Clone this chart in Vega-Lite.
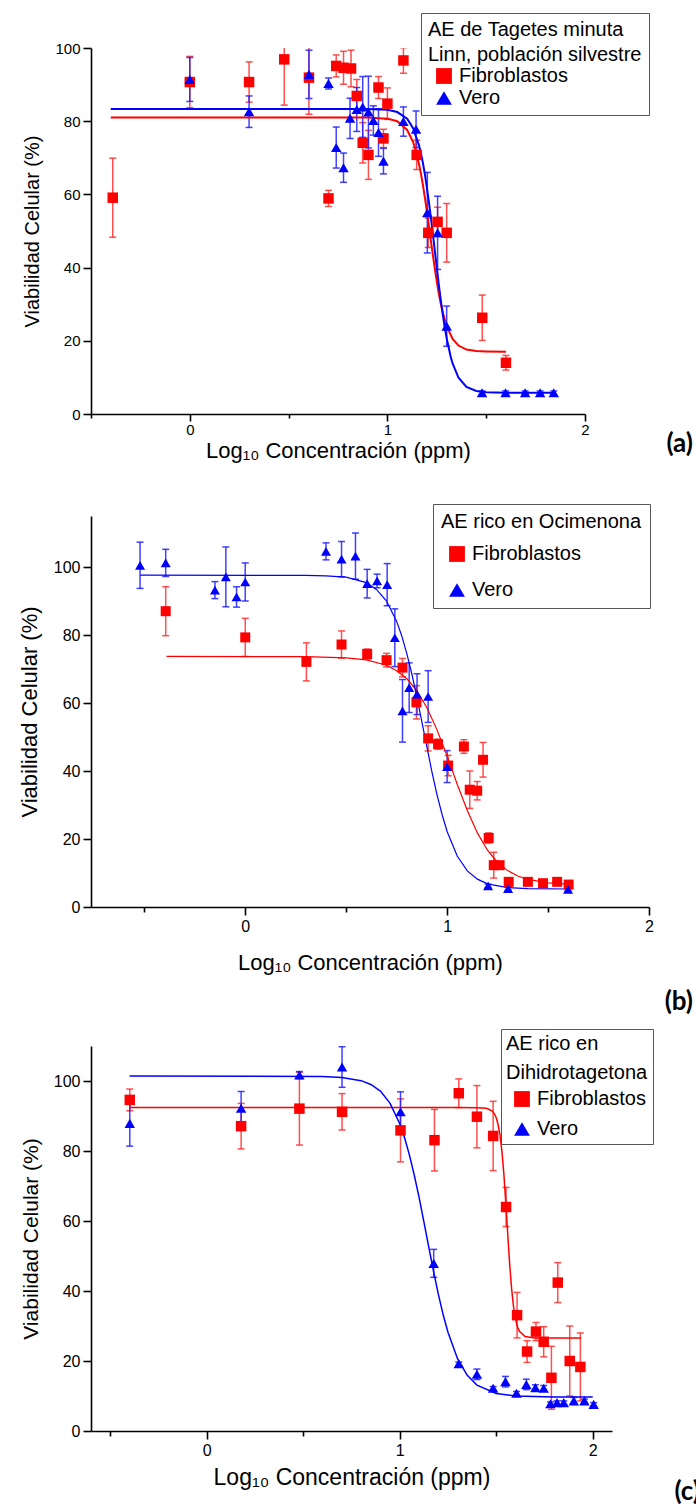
{
  "$schema": "https://vega.github.io/schema/vega-lite/v6.json",
  "padding": {"left": 18, "top": 12, "right": 0, "bottom": 0},
  "bounds": "flush",
  "spacing": 102,
  "resolve": {"scale": {"color": "independent", "shape": "independent"}, "legend": {"color": "independent", "shape": "independent"}},
  "config": {
    "view": {"stroke": null},
    "font": "Liberation Sans",
    "axis": {"domainColor": "black", "domainWidth": 1.6, "tickColor": "black", "tickWidth": 1.6, "labelColor": "black", "titleColor": "black", "grid": false, "labelFont": "Liberation Sans", "titleFont": "Liberation Sans", "titleFontWeight": "normal", "labelFontSize": 15, "labelPadding": 3, "labelOverlap": false, "labelFlush": false},
    "legend": {"orient": "none", "direction": "vertical", "strokeColor": "#555555", "fillColor": "#ffffff", "titleFont": "Liberation Sans", "labelFont": "Liberation Sans", "titleFontWeight": "normal", "titleFontSize": 20, "labelFontSize": 20, "titleColor": "black", "labelColor": "black", "titleLimit": 500, "labelLimit": 500, "symbolStrokeWidth": 0, "symbolSize": 250, "symbolOffset": 6, "labelOffset": 5}
  },
  "datasets": {
    "a_pts": [
      {"x": -0.39, "y": 59.1, "e": 10.8, "cell": "Fibroblastos"},
      {"x": 0.0, "y": 90.7, "e": 7, "cell": "Fibroblastos"},
      {"x": 0.30, "y": 90.7, "e": 5.5, "cell": "Fibroblastos"},
      {"x": 0.478, "y": 96.9, "e": 12.5, "cell": "Fibroblastos"},
      {"x": 0.603, "y": 91.9, "e": 10, "cell": "Fibroblastos"},
      {"x": 0.702, "y": 58.9, "e": 2.2, "cell": "Fibroblastos"},
      {"x": 0.741, "y": 95.1, "e": 3, "cell": "Fibroblastos"},
      {"x": 0.778, "y": 94.6, "e": 4.5, "cell": "Fibroblastos"},
      {"x": 0.816, "y": 94.4, "e": 5, "cell": "Fibroblastos"},
      {"x": 0.845, "y": 86.9, "e": 4.5, "cell": "Fibroblastos"},
      {"x": 0.875, "y": 74.1, "e": 5.5, "cell": "Fibroblastos"},
      {"x": 0.904, "y": 70.8, "e": 6.7, "cell": "Fibroblastos"},
      {"x": 0.955, "y": 89.2, "e": 3, "cell": "Fibroblastos"},
      {"x": 0.98, "y": 75.3, "e": 2.5, "cell": "Fibroblastos"},
      {"x": 1.0, "y": 84.8, "e": 4.3, "cell": "Fibroblastos"},
      {"x": 1.081, "y": 96.6, "e": 3.5, "cell": "Fibroblastos"},
      {"x": 1.148, "y": 70.8, "e": 4, "cell": "Fibroblastos"},
      {"x": 1.207, "y": 49.5, "e": 4, "cell": "Fibroblastos"},
      {"x": 1.254, "y": 52.5, "e": 4, "cell": "Fibroblastos"},
      {"x": 1.30, "y": 49.5, "e": 8, "cell": "Fibroblastos"},
      {"x": 1.48, "y": 26.3, "e": 6.2, "cell": "Fibroblastos"},
      {"x": 1.60, "y": 14.0, "e": 2, "cell": "Fibroblastos"},
      {"x": 0.0, "y": 91.4, "e": 6, "cell": "Vero"},
      {"x": 0.30, "y": 82.6, "e": 4.3, "cell": "Vero"},
      {"x": 0.603, "y": 92.8, "e": 6.6, "cell": "Vero"},
      {"x": 0.702, "y": 90.3, "e": 1.5, "cell": "Vero"},
      {"x": 0.741, "y": 72.8, "e": 5.6, "cell": "Vero"},
      {"x": 0.778, "y": 67.3, "e": 4, "cell": "Vero"},
      {"x": 0.811, "y": 80.8, "e": 5.5, "cell": "Vero"},
      {"x": 0.845, "y": 83.2, "e": 6, "cell": "Vero"},
      {"x": 0.875, "y": 83.9, "e": 8.3, "cell": "Vero"},
      {"x": 0.904, "y": 82.5, "e": 9.8, "cell": "Vero"},
      {"x": 0.929, "y": 80.2, "e": 4, "cell": "Vero"},
      {"x": 0.955, "y": 76.9, "e": 6.5, "cell": "Vero"},
      {"x": 0.98, "y": 69.1, "e": 3.5, "cell": "Vero"},
      {"x": 1.081, "y": 79.9, "e": 4, "cell": "Vero"},
      {"x": 1.145, "y": 77.8, "e": 5, "cell": "Vero"},
      {"x": 1.202, "y": 55.0, "e": 11, "cell": "Vero"},
      {"x": 1.254, "y": 49.5, "e": 10, "cell": "Vero"},
      {"x": 1.30, "y": 24.0, "e": 5.5, "cell": "Vero"},
      {"x": 1.479, "y": 5.8, "e": 0.5, "cell": "Vero"},
      {"x": 1.598, "y": 5.8, "e": 0.5, "cell": "Vero"},
      {"x": 1.697, "y": 5.8, "e": 0.5, "cell": "Vero"},
      {"x": 1.773, "y": 5.8, "e": 0.5, "cell": "Vero"},
      {"x": 1.842, "y": 5.8, "e": 0.5, "cell": "Vero"}
    ],
    "a_fit": [
      {"x": -0.40, "y": 81.0, "cell": "Fibroblastos"}, {"x": 0.90, "y": 81.0, "cell": "Fibroblastos"}, {"x": 1.00, "y": 80.7, "cell": "Fibroblastos"}, {"x": 1.05, "y": 80.0, "cell": "Fibroblastos"}, {"x": 1.10, "y": 77.6, "cell": "Fibroblastos"}, {"x": 1.13, "y": 74.3, "cell": "Fibroblastos"}, {"x": 1.14, "y": 72.6, "cell": "Fibroblastos"}, {"x": 1.16, "y": 68.3, "cell": "Fibroblastos"}, {"x": 1.17, "y": 65.6, "cell": "Fibroblastos"}, {"x": 1.18, "y": 62.5, "cell": "Fibroblastos"}, {"x": 1.19, "y": 59.0, "cell": "Fibroblastos"}, {"x": 1.20, "y": 55.3, "cell": "Fibroblastos"}, {"x": 1.21, "y": 51.4, "cell": "Fibroblastos"}, {"x": 1.22, "y": 47.4, "cell": "Fibroblastos"}, {"x": 1.23, "y": 43.5, "cell": "Fibroblastos"}, {"x": 1.24, "y": 39.7, "cell": "Fibroblastos"}, {"x": 1.25, "y": 36.2, "cell": "Fibroblastos"}, {"x": 1.26, "y": 33.0, "cell": "Fibroblastos"}, {"x": 1.27, "y": 30.2, "cell": "Fibroblastos"}, {"x": 1.28, "y": 27.8, "cell": "Fibroblastos"}, {"x": 1.30, "y": 24.0, "cell": "Fibroblastos"}, {"x": 1.33, "y": 20.5, "cell": "Fibroblastos"}, {"x": 1.36, "y": 18.7, "cell": "Fibroblastos"}, {"x": 1.40, "y": 17.6, "cell": "Fibroblastos"}, {"x": 1.45, "y": 17.2, "cell": "Fibroblastos"}, {"x": 1.50, "y": 17.1, "cell": "Fibroblastos"}, {"x": 1.60, "y": 17.0, "cell": "Fibroblastos"},
      {"x": -0.40, "y": 83.3, "cell": "Vero"}, {"x": 0.90, "y": 83.3, "cell": "Vero"}, {"x": 1.00, "y": 83.1, "cell": "Vero"}, {"x": 1.05, "y": 82.5, "cell": "Vero"}, {"x": 1.10, "y": 80.7, "cell": "Vero"}, {"x": 1.13, "y": 78.1, "cell": "Vero"}, {"x": 1.16, "y": 73.4, "cell": "Vero"}, {"x": 1.17, "y": 71.1, "cell": "Vero"}, {"x": 1.18, "y": 68.5, "cell": "Vero"}, {"x": 1.19, "y": 65.4, "cell": "Vero"}, {"x": 1.20, "y": 61.8, "cell": "Vero"}, {"x": 1.21, "y": 57.9, "cell": "Vero"}, {"x": 1.22, "y": 53.7, "cell": "Vero"}, {"x": 1.23, "y": 49.2, "cell": "Vero"}, {"x": 1.24, "y": 44.6, "cell": "Vero"}, {"x": 1.25, "y": 39.9, "cell": "Vero"}, {"x": 1.26, "y": 35.4, "cell": "Vero"}, {"x": 1.27, "y": 31.2, "cell": "Vero"}, {"x": 1.28, "y": 27.3, "cell": "Vero"}, {"x": 1.29, "y": 23.7, "cell": "Vero"}, {"x": 1.30, "y": 20.7, "cell": "Vero"}, {"x": 1.32, "y": 15.7, "cell": "Vero"}, {"x": 1.33, "y": 13.8, "cell": "Vero"}, {"x": 1.36, "y": 9.9, "cell": "Vero"}, {"x": 1.40, "y": 7.4, "cell": "Vero"}, {"x": 1.45, "y": 6.3, "cell": "Vero"}, {"x": 1.50, "y": 5.95, "cell": "Vero"}, {"x": 1.60, "y": 5.8, "cell": "Vero"}, {"x": 1.84, "y": 5.8, "cell": "Vero"}
    ],
    "b_pts": [
      {"x": -0.394, "y": 87.0, "e": 7.2, "cell": "Fibroblastos"},
      {"x": 0.0, "y": 79.3, "e": 5.6, "cell": "Fibroblastos"},
      {"x": 0.303, "y": 72.1, "e": 5.6, "cell": "Fibroblastos"},
      {"x": 0.477, "y": 77.2, "e": 4, "cell": "Fibroblastos"},
      {"x": 0.604, "y": 74.4, "e": 1.5, "cell": "Fibroblastos"},
      {"x": 0.70, "y": 72.6, "e": 2, "cell": "Fibroblastos"},
      {"x": 0.779, "y": 70.4, "e": 2.7, "cell": "Fibroblastos"},
      {"x": 0.848, "y": 60.2, "e": 4.9, "cell": "Fibroblastos"},
      {"x": 0.906, "y": 49.6, "e": 3.7, "cell": "Fibroblastos"},
      {"x": 0.955, "y": 47.9, "e": 1.5, "cell": "Fibroblastos"},
      {"x": 1.005, "y": 41.6, "e": 3, "cell": "Fibroblastos"},
      {"x": 1.083, "y": 47.2, "e": 2, "cell": "Fibroblastos"},
      {"x": 1.112, "y": 34.5, "e": 5.5, "cell": "Fibroblastos"},
      {"x": 1.149, "y": 34.2, "e": 2.7, "cell": "Fibroblastos"},
      {"x": 1.178, "y": 43.3, "e": 5.1, "cell": "Fibroblastos"},
      {"x": 1.206, "y": 20.3, "e": 1.5, "cell": "Fibroblastos"},
      {"x": 1.231, "y": 12.3, "e": 3.8, "cell": "Fibroblastos"},
      {"x": 1.26, "y": 12.3, "e": 1, "cell": "Fibroblastos"},
      {"x": 1.305, "y": 7.4, "e": 0.5, "cell": "Fibroblastos"},
      {"x": 1.40, "y": 7.4, "e": 0.5, "cell": "Fibroblastos"},
      {"x": 1.475, "y": 7.0, "e": 0.5, "cell": "Fibroblastos"},
      {"x": 1.545, "y": 7.4, "e": 0.5, "cell": "Fibroblastos"},
      {"x": 1.602, "y": 6.6, "e": 0.5, "cell": "Fibroblastos"},
      {"x": -0.521, "y": 100.5, "e": 6.8, "cell": "Vero"},
      {"x": -0.394, "y": 101.2, "e": 4, "cell": "Vero"},
      {"x": -0.15, "y": 93.2, "e": 2.5, "cell": "Vero"},
      {"x": -0.096, "y": 97.1, "e": 8.8, "cell": "Vero"},
      {"x": -0.043, "y": 91.2, "e": 3, "cell": "Vero"},
      {"x": 0.0, "y": 95.6, "e": 5.6, "cell": "Vero"},
      {"x": 0.40, "y": 104.6, "e": 2.5, "cell": "Vero"},
      {"x": 0.477, "y": 102.3, "e": 5.2, "cell": "Vero"},
      {"x": 0.546, "y": 103.2, "e": 6.8, "cell": "Vero"},
      {"x": 0.604, "y": 95.1, "e": 4.2, "cell": "Vero"},
      {"x": 0.653, "y": 95.9, "e": 2, "cell": "Vero"},
      {"x": 0.703, "y": 94.8, "e": 6.2, "cell": "Vero"},
      {"x": 0.741, "y": 79.2, "e": 8.5, "cell": "Vero"},
      {"x": 0.779, "y": 57.7, "e": 9.2, "cell": "Vero"},
      {"x": 0.812, "y": 64.5, "e": 7.3, "cell": "Vero"},
      {"x": 0.851, "y": 62.6, "e": 6, "cell": "Vero"},
      {"x": 0.906, "y": 61.9, "e": 7.6, "cell": "Vero"},
      {"x": 1.0, "y": 41.3, "e": 4.7, "cell": "Vero"},
      {"x": 1.203, "y": 6.2, "e": 0.5, "cell": "Vero"},
      {"x": 1.302, "y": 5.4, "e": 0.5, "cell": "Vero"},
      {"x": 1.599, "y": 5.2, "e": 0.5, "cell": "Vero"}
    ],
    "b_fit": [
      {"x": -0.39, "y": 73.7, "cell": "Fibroblastos"}, {"x": 0.30, "y": 73.65, "cell": "Fibroblastos"}, {"x": 0.50, "y": 73.3, "cell": "Fibroblastos"}, {"x": 0.60, "y": 72.7, "cell": "Fibroblastos"}, {"x": 0.70, "y": 71.1, "cell": "Fibroblastos"}, {"x": 0.75, "y": 69.5, "cell": "Fibroblastos"}, {"x": 0.80, "y": 67.2, "cell": "Fibroblastos"}, {"x": 0.85, "y": 63.6, "cell": "Fibroblastos"}, {"x": 0.90, "y": 58.6, "cell": "Fibroblastos"}, {"x": 0.95, "y": 52.1, "cell": "Fibroblastos"}, {"x": 1.00, "y": 44.4, "cell": "Fibroblastos"}, {"x": 1.05, "y": 36.1, "cell": "Fibroblastos"}, {"x": 1.10, "y": 28.4, "cell": "Fibroblastos"}, {"x": 1.15, "y": 21.8, "cell": "Fibroblastos"}, {"x": 1.20, "y": 16.7, "cell": "Fibroblastos"}, {"x": 1.25, "y": 13.1, "cell": "Fibroblastos"}, {"x": 1.30, "y": 10.7, "cell": "Fibroblastos"}, {"x": 1.35, "y": 9.1, "cell": "Fibroblastos"}, {"x": 1.40, "y": 8.1, "cell": "Fibroblastos"}, {"x": 1.50, "y": 7.1, "cell": "Fibroblastos"}, {"x": 1.60, "y": 6.7, "cell": "Fibroblastos"},
      {"x": -0.52, "y": 97.6, "cell": "Vero"}, {"x": 0.30, "y": 97.55, "cell": "Vero"}, {"x": 0.40, "y": 97.4, "cell": "Vero"}, {"x": 0.50, "y": 97.0, "cell": "Vero"}, {"x": 0.60, "y": 95.4, "cell": "Vero"}, {"x": 0.65, "y": 93.4, "cell": "Vero"}, {"x": 0.70, "y": 90.0, "cell": "Vero"}, {"x": 0.75, "y": 84.0, "cell": "Vero"}, {"x": 0.775, "y": 79.8, "cell": "Vero"}, {"x": 0.80, "y": 74.6, "cell": "Vero"}, {"x": 0.825, "y": 68.6, "cell": "Vero"}, {"x": 0.85, "y": 61.8, "cell": "Vero"}, {"x": 0.875, "y": 54.45, "cell": "Vero"}, {"x": 0.90, "y": 47.0, "cell": "Vero"}, {"x": 0.925, "y": 39.7, "cell": "Vero"}, {"x": 0.95, "y": 33.0, "cell": "Vero"}, {"x": 0.975, "y": 27.2, "cell": "Vero"}, {"x": 1.00, "y": 22.2, "cell": "Vero"}, {"x": 1.05, "y": 15.0, "cell": "Vero"}, {"x": 1.10, "y": 10.6, "cell": "Vero"}, {"x": 1.15, "y": 8.2, "cell": "Vero"}, {"x": 1.20, "y": 6.8, "cell": "Vero"}, {"x": 1.30, "y": 5.7, "cell": "Vero"}, {"x": 1.40, "y": 5.4, "cell": "Vero"}, {"x": 1.60, "y": 5.3, "cell": "Vero"}
    ],
    "c_pts": [
      {"x": -0.399, "y": 94.6, "e": 3.1, "cell": "Fibroblastos"},
      {"x": 0.178, "y": 87.1, "e": 6.5, "cell": "Fibroblastos"},
      {"x": 0.48, "y": 92.1, "e": 10.4, "cell": "Fibroblastos"},
      {"x": 0.701, "y": 91.2, "e": 5.2, "cell": "Fibroblastos"},
      {"x": 1.004, "y": 85.9, "e": 9, "cell": "Fibroblastos"},
      {"x": 1.18, "y": 83.1, "e": 8.8, "cell": "Fibroblastos"},
      {"x": 1.306, "y": 96.5, "e": 4.1, "cell": "Fibroblastos"},
      {"x": 1.40, "y": 89.8, "e": 8.9, "cell": "Fibroblastos"},
      {"x": 1.484, "y": 84.3, "e": 9.9, "cell": "Fibroblastos"},
      {"x": 1.551, "y": 64.0, "e": 5.6, "cell": "Fibroblastos"},
      {"x": 1.608, "y": 33.1, "e": 6.5, "cell": "Fibroblastos"},
      {"x": 1.66, "y": 22.7, "e": 3.1, "cell": "Fibroblastos"},
      {"x": 1.706, "y": 28.4, "e": 2.6, "cell": "Fibroblastos"},
      {"x": 1.746, "y": 25.5, "e": 4.3, "cell": "Fibroblastos"},
      {"x": 1.786, "y": 15.2, "e": 9, "cell": "Fibroblastos"},
      {"x": 1.819, "y": 42.4, "e": 5.7, "cell": "Fibroblastos"},
      {"x": 1.881, "y": 20.0, "e": 10, "cell": "Fibroblastos"},
      {"x": 1.936, "y": 18.3, "e": 9.7, "cell": "Fibroblastos"},
      {"x": -0.399, "y": 87.9, "e": 6.5, "cell": "Vero"},
      {"x": 0.178, "y": 92.2, "e": 4.8, "cell": "Vero"},
      {"x": 0.48, "y": 101.7, "e": 1, "cell": "Vero"},
      {"x": 0.701, "y": 104.0, "e": 5.8, "cell": "Vero"},
      {"x": 1.004, "y": 91.2, "e": 5.7, "cell": "Vero"},
      {"x": 1.176, "y": 47.9, "e": 4, "cell": "Vero"},
      {"x": 1.306, "y": 19.2, "e": 0.5, "cell": "Vero"},
      {"x": 1.40, "y": 16.2, "e": 1.5, "cell": "Vero"},
      {"x": 1.484, "y": 12.2, "e": 0.5, "cell": "Vero"},
      {"x": 1.548, "y": 14.1, "e": 1.5, "cell": "Vero"},
      {"x": 1.605, "y": 10.8, "e": 0.5, "cell": "Vero"},
      {"x": 1.656, "y": 13.3, "e": 1.5, "cell": "Vero"},
      {"x": 1.703, "y": 12.4, "e": 0.8, "cell": "Vero"},
      {"x": 1.746, "y": 12.2, "e": 0.8, "cell": "Vero"},
      {"x": 1.781, "y": 7.8, "e": 0.5, "cell": "Vero"},
      {"x": 1.815, "y": 8.1, "e": 0.5, "cell": "Vero"},
      {"x": 1.85, "y": 8.1, "e": 0.5, "cell": "Vero"},
      {"x": 1.902, "y": 8.6, "e": 1, "cell": "Vero"},
      {"x": 1.957, "y": 8.6, "e": 0.5, "cell": "Vero"},
      {"x": 2.005, "y": 7.6, "e": 0.5, "cell": "Vero"}
    ],
    "c_fit": [
      {"x": -0.40, "y": 92.4, "cell": "Fibroblastos"}, {"x": 1.30, "y": 92.4, "cell": "Fibroblastos"}, {"x": 1.40, "y": 92.39, "cell": "Fibroblastos"}, {"x": 1.45, "y": 92.2, "cell": "Fibroblastos"}, {"x": 1.48, "y": 91.4, "cell": "Fibroblastos"}, {"x": 1.49, "y": 90.7, "cell": "Fibroblastos"}, {"x": 1.50, "y": 89.5, "cell": "Fibroblastos"}, {"x": 1.51, "y": 87.5, "cell": "Fibroblastos"}, {"x": 1.52, "y": 84.4, "cell": "Fibroblastos"}, {"x": 1.53, "y": 79.7, "cell": "Fibroblastos"}, {"x": 1.54, "y": 73.1, "cell": "Fibroblastos"}, {"x": 1.55, "y": 64.9, "cell": "Fibroblastos"}, {"x": 1.56, "y": 55.9, "cell": "Fibroblastos"}, {"x": 1.57, "y": 47.4, "cell": "Fibroblastos"}, {"x": 1.58, "y": 40.5, "cell": "Fibroblastos"}, {"x": 1.59, "y": 35.4, "cell": "Fibroblastos"}, {"x": 1.60, "y": 32.0, "cell": "Fibroblastos"}, {"x": 1.61, "y": 29.8, "cell": "Fibroblastos"}, {"x": 1.62, "y": 28.5, "cell": "Fibroblastos"}, {"x": 1.65, "y": 27.0, "cell": "Fibroblastos"}, {"x": 1.70, "y": 26.6, "cell": "Fibroblastos"}, {"x": 1.94, "y": 26.6, "cell": "Fibroblastos"},
      {"x": -0.40, "y": 101.4, "cell": "Vero"}, {"x": 0.60, "y": 101.3, "cell": "Vero"}, {"x": 0.70, "y": 101.0, "cell": "Vero"}, {"x": 0.80, "y": 100.1, "cell": "Vero"}, {"x": 0.85, "y": 99.0, "cell": "Vero"}, {"x": 0.90, "y": 97.1, "cell": "Vero"}, {"x": 0.95, "y": 93.6, "cell": "Vero"}, {"x": 1.00, "y": 87.8, "cell": "Vero"}, {"x": 1.025, "y": 83.8, "cell": "Vero"}, {"x": 1.05, "y": 78.9, "cell": "Vero"}, {"x": 1.075, "y": 73.2, "cell": "Vero"}, {"x": 1.10, "y": 66.8, "cell": "Vero"}, {"x": 1.125, "y": 59.8, "cell": "Vero"}, {"x": 1.15, "y": 52.7, "cell": "Vero"}, {"x": 1.175, "y": 45.7, "cell": "Vero"}, {"x": 1.20, "y": 39.1, "cell": "Vero"}, {"x": 1.225, "y": 33.2, "cell": "Vero"}, {"x": 1.25, "y": 28.2, "cell": "Vero"}, {"x": 1.30, "y": 20.6, "cell": "Vero"}, {"x": 1.35, "y": 15.9, "cell": "Vero"}, {"x": 1.40, "y": 13.1, "cell": "Vero"}, {"x": 1.50, "y": 10.7, "cell": "Vero"}, {"x": 1.60, "y": 10.0, "cell": "Vero"}, {"x": 1.80, "y": 9.7, "cell": "Vero"}, {"x": 2.00, "y": 9.7, "cell": "Vero"}
    ]
  },
  "vconcat": [
    {
      "width": 494,
      "height": 366,
      "title": {"text": "(a)", "orient": "bottom", "anchor": "end", "frame": "group", "font": "Lato", "fontSize": 26, "fontWeight": "bold", "color": "black", "dx": 108, "offset": -30},
      "layer": [
        {
          "data": {"name": "a_pts"},
          "transform": [{"filter": "datum.cell === 'Fibroblastos'"}],
          "mark": {"type": "errorbar", "color": "#ff3030", "opacity": 0.85, "thickness": 1.5, "ticks": {"size": 7}, "clip": true},
          "encoding": {
            "x": {"field": "x", "type": "quantitative", "title": "Log₁₀ Concentración (ppm)", "scale": {"domain": [-0.5, 2], "nice": false, "zero": false},
              "axis": {"title": "Log₁₀ Concentración (ppm)", "titleFontSize": 22, "titlePadding": 3, "labelPadding": 1, "values": [-0.5, 0, 0.5, 1, 1.5, 2], "labelExpr": "datum.value % 1 === 0 ? '' + datum.value : ''", "tickSize": {"condition": {"test": "datum.value % 1 === 0", "value": 7}, "value": 4}}},
            "y": {"field": "y", "type": "quantitative", "title": "Viabilidad Celular (%)", "scale": {"domain": [0, 100], "nice": false, "zero": false},
              "axis": {"title": "Viabilidad Celular (%)", "titleFontSize": 20, "titlePadding": 12, "values": [0, 10, 20, 30, 40, 50, 60, 70, 80, 90, 100], "labelExpr": "datum.value % 20 === 0 ? '' + datum.value : ''", "tickSize": {"condition": {"test": "datum.value % 20 === 0", "value": 8}, "value": 5}}},
            "yError": {"field": "e"}
          }
        },
        {
          "data": {"name": "a_pts"},
          "transform": [{"filter": "datum.cell === 'Vero'"}],
          "mark": {"type": "errorbar", "color": "#2020ff", "opacity": 0.85, "thickness": 1.5, "ticks": {"size": 7}, "clip": true},
          "encoding": {"x": {"field": "x", "type": "quantitative", "title": "Log₁₀ Concentración (ppm)"}, "y": {"field": "y", "type": "quantitative", "title": "Viabilidad Celular (%)"}, "yError": {"field": "e"}}
        },
        {
          "data": {"name": "a_fit"},
          "transform": [{"filter": "datum.cell === 'Fibroblastos'"}],
          "mark": {"type": "line", "color": "#ff0000", "strokeWidth": 2, "clip": true},
          "encoding": {"x": {"field": "x", "type": "quantitative", "title": "Log₁₀ Concentración (ppm)"}, "y": {"field": "y", "type": "quantitative", "title": "Viabilidad Celular (%)"}}
        },
        {
          "data": {"name": "a_fit"},
          "transform": [{"filter": "datum.cell === 'Vero'"}],
          "mark": {"type": "line", "color": "#0000ff", "strokeWidth": 2, "clip": true},
          "encoding": {"x": {"field": "x", "type": "quantitative", "title": "Log₁₀ Concentración (ppm)"}, "y": {"field": "y", "type": "quantitative", "title": "Viabilidad Celular (%)"}}
        },
        {
          "data": {"name": "a_pts"},
          "mark": {"type": "point", "filled": true, "opacity": 1, "size": 110, "clip": true},
          "encoding": {
            "x": {"field": "x", "type": "quantitative", "title": "Log₁₀ Concentración (ppm)"},
            "y": {"field": "y", "type": "quantitative", "title": "Viabilidad Celular (%)"},
            "color": {"field": "cell", "type": "nominal", "scale": {"domain": ["Fibroblastos", "Vero"], "range": ["#ff0000", "#0000ff"]},
              "legend": {"title": ["AE de Tagetes minuta", "Linn, población silvestre"], "legendX": 330, "legendY": -35, "padding": 7, "titleLineHeight": 25, "titlePadding": 1, "rowPadding": 2}},
            "shape": {"field": "cell", "type": "nominal", "scale": {"domain": ["Fibroblastos", "Vero"], "range": ["square", "triangle-up"]},
              "legend": {"title": ["AE de Tagetes minuta", "Linn, población silvestre"], "legendX": 330, "legendY": -35, "padding": 7, "titleLineHeight": 25, "titlePadding": 1, "rowPadding": 2}}
          }
        }
      ]
    },
    {
      "spacing": 139,
      "bounds": "flush",
      "resolve": {"scale": {"color": "independent", "shape": "independent"}, "legend": {"color": "independent", "shape": "independent"}},
      "vconcat": [
        {
          "width": 558,
          "height": 391,
          "title": {"text": "(b)", "orient": "bottom", "anchor": "end", "frame": "group", "font": "Lato", "fontSize": 26, "fontWeight": "bold", "color": "black", "dx": 44, "offset": 16},
          "layer": [
            {
              "data": {"name": "b_pts"},
              "transform": [{"filter": "datum.cell === 'Fibroblastos'"}],
              "mark": {"type": "errorbar", "color": "#ff3030", "opacity": 0.85, "thickness": 1.5, "ticks": {"size": 7}, "clip": true},
              "encoding": {
                "x": {"field": "x", "type": "quantitative", "title": "Log₁₀ Concentración (ppm)", "scale": {"domain": [-0.764, 2], "nice": false, "zero": false},
                  "axis": {"title": "Log₁₀ Concentración (ppm)", "titleFontSize": 22, "titlePadding": 18, "labelFontSize": 16, "values": [-0.5, 0, 0.5, 1, 1.5, 2], "labelExpr": "datum.value % 1 === 0 ? '' + datum.value : ''", "tickSize": {"condition": {"test": "datum.value % 1 === 0", "value": 8}, "value": 5}}},
                "y": {"field": "y", "type": "quantitative", "title": "Viabilidad Celular (%)", "scale": {"domain": [0, 115], "nice": false, "zero": false},
                  "axis": {"title": "Viabilidad Celular (%)", "titleFontSize": 22, "titlePadding": 12, "labelFontSize": 16, "values": [0, 10, 20, 30, 40, 50, 60, 70, 80, 90, 100, 110], "labelExpr": "datum.value % 20 === 0 ? '' + datum.value : ''", "tickSize": {"condition": {"test": "datum.value % 20 === 0", "value": 8}, "value": 5}}},
                "yError": {"field": "e"}
              }
            },
            {
              "data": {"name": "b_pts"},
              "transform": [{"filter": "datum.cell === 'Vero'"}],
              "mark": {"type": "errorbar", "color": "#2020ff", "opacity": 0.85, "thickness": 1.5, "ticks": {"size": 7}, "clip": true},
              "encoding": {"x": {"field": "x", "type": "quantitative", "title": "Log₁₀ Concentración (ppm)"}, "y": {"field": "y", "type": "quantitative", "title": "Viabilidad Celular (%)"}, "yError": {"field": "e"}}
            },
            {
              "data": {"name": "b_fit"},
              "transform": [{"filter": "datum.cell === 'Fibroblastos'"}],
              "mark": {"type": "line", "color": "#ff0000", "strokeWidth": 1.2, "clip": true},
              "encoding": {"x": {"field": "x", "type": "quantitative", "title": "Log₁₀ Concentración (ppm)"}, "y": {"field": "y", "type": "quantitative", "title": "Viabilidad Celular (%)"}}
            },
            {
              "data": {"name": "b_fit"},
              "transform": [{"filter": "datum.cell === 'Vero'"}],
              "mark": {"type": "line", "color": "#0000ff", "strokeWidth": 1.2, "clip": true},
              "encoding": {"x": {"field": "x", "type": "quantitative", "title": "Log₁₀ Concentración (ppm)"}, "y": {"field": "y", "type": "quantitative", "title": "Viabilidad Celular (%)"}}
            },
            {
              "data": {"name": "b_pts"},
              "mark": {"type": "point", "filled": true, "opacity": 1, "size": 100, "clip": true},
              "encoding": {
                "x": {"field": "x", "type": "quantitative", "title": "Log₁₀ Concentración (ppm)"},
                "y": {"field": "y", "type": "quantitative", "title": "Viabilidad Celular (%)"},
                "color": {"field": "cell", "type": "nominal", "scale": {"domain": ["Fibroblastos", "Vero"], "range": ["#ff0000", "#0000ff"]},
                  "legend": {"title": "AE rico en Ocimenona", "legendX": 342, "legendY": -12, "padding": 8, "titlePadding": 12, "rowPadding": 16}},
                "shape": {"field": "cell", "type": "nominal", "scale": {"domain": ["Fibroblastos", "Vero"], "range": ["square", "triangle-up"]},
                  "legend": {"title": "AE rico en Ocimenona", "legendX": 342, "legendY": -12, "padding": 8, "titlePadding": 12, "rowPadding": 16}}
              }
            }
          ]
        },
        {
          "width": 521,
          "height": 385,
          "title": {"text": "(c)", "orient": "bottom", "anchor": "end", "frame": "group", "font": "Lato", "fontSize": 26, "fontWeight": "bold", "color": "black", "dx": 88, "offset": -10},
          "layer": [
            {
              "data": {"name": "c_pts"},
              "transform": [{"filter": "datum.cell === 'Fibroblastos'"}],
              "mark": {"type": "errorbar", "color": "#ff3030", "opacity": 0.85, "thickness": 1.5, "ticks": {"size": 7}, "clip": true},
              "encoding": {
                "x": {"field": "x", "type": "quantitative", "title": "Log₁₀ Concentración (ppm)", "scale": {"domain": [-0.6, 2.1], "nice": false, "zero": false},
                  "axis": {"title": "Log₁₀ Concentración (ppm)", "titleFontSize": 23, "titlePadding": 8, "labelFontSize": 16, "values": [-0.5, 0, 0.5, 1, 1.5, 2], "labelExpr": "datum.value % 1 === 0 ? '' + datum.value : ''", "tickSize": {"condition": {"test": "datum.value % 1 === 0", "value": 8}, "value": 5}}},
                "y": {"field": "y", "type": "quantitative", "title": "Viabilidad Celular (%)", "scale": {"domain": [0, 110], "nice": false, "zero": false},
                  "axis": {"title": "Viabilidad Celular (%)", "titleFontSize": 21, "titlePadding": 12, "labelFontSize": 16, "values": [0, 10, 20, 30, 40, 50, 60, 70, 80, 90, 100, 110], "labelExpr": "datum.value % 20 === 0 ? '' + datum.value : ''", "tickSize": {"condition": {"test": "datum.value % 20 === 0", "value": 8}, "value": 5}}},
                "yError": {"field": "e"}
              }
            },
            {
              "data": {"name": "c_pts"},
              "transform": [{"filter": "datum.cell === 'Vero'"}],
              "mark": {"type": "errorbar", "color": "#2020ff", "opacity": 0.85, "thickness": 1.5, "ticks": {"size": 7}, "clip": true},
              "encoding": {"x": {"field": "x", "type": "quantitative", "title": "Log₁₀ Concentración (ppm)"}, "y": {"field": "y", "type": "quantitative", "title": "Viabilidad Celular (%)"}, "yError": {"field": "e"}}
            },
            {
              "data": {"name": "c_fit"},
              "transform": [{"filter": "datum.cell === 'Fibroblastos'"}],
              "mark": {"type": "line", "color": "#ff0000", "strokeWidth": 1.5, "clip": true},
              "encoding": {"x": {"field": "x", "type": "quantitative", "title": "Log₁₀ Concentración (ppm)"}, "y": {"field": "y", "type": "quantitative", "title": "Viabilidad Celular (%)"}}
            },
            {
              "data": {"name": "c_fit"},
              "transform": [{"filter": "datum.cell === 'Vero'"}],
              "mark": {"type": "line", "color": "#0000ff", "strokeWidth": 1.5, "clip": true},
              "encoding": {"x": {"field": "x", "type": "quantitative", "title": "Log₁₀ Concentración (ppm)"}, "y": {"field": "y", "type": "quantitative", "title": "Viabilidad Celular (%)"}}
            },
            {
              "data": {"name": "c_pts"},
              "mark": {"type": "point", "filled": true, "opacity": 1, "size": 110, "clip": true},
              "encoding": {
                "x": {"field": "x", "type": "quantitative", "title": "Log₁₀ Concentración (ppm)"},
                "y": {"field": "y", "type": "quantitative", "title": "Viabilidad Celular (%)"},
                "color": {"field": "cell", "type": "nominal", "scale": {"domain": ["Fibroblastos", "Vero"], "range": ["#ff0000", "#0000ff"]},
                  "legend": {"title": ["AE rico en", "Dihidrotagetona"], "legendX": 410, "legendY": -17, "padding": 5, "titleLineHeight": 29, "titlePadding": 6, "rowPadding": 10}},
                "shape": {"field": "cell", "type": "nominal", "scale": {"domain": ["Fibroblastos", "Vero"], "range": ["square", "triangle-up"]},
                  "legend": {"title": ["AE rico en", "Dihidrotagetona"], "legendX": 410, "legendY": -17, "padding": 5, "titleLineHeight": 29, "titlePadding": 6, "rowPadding": 10}}
              }
            }
          ]
        }
      ]
    }
  ]
}
